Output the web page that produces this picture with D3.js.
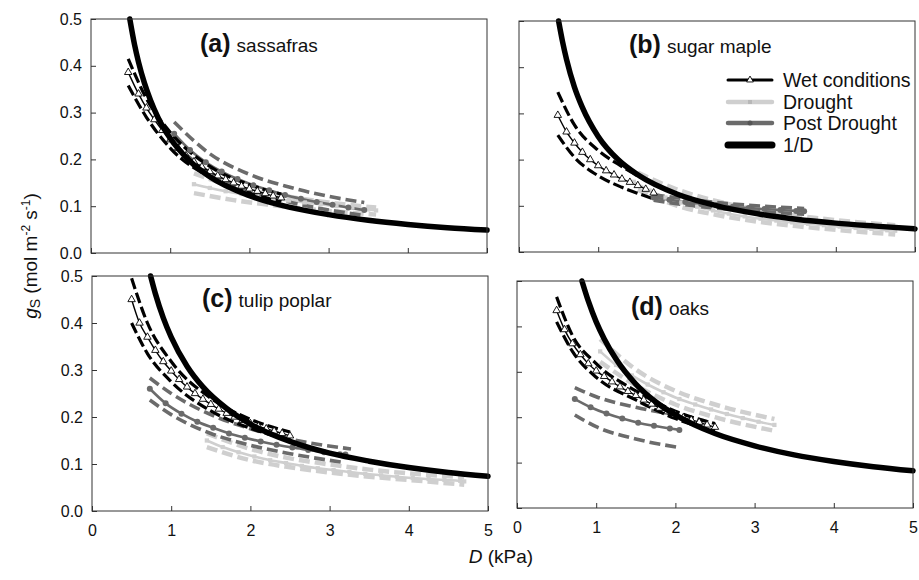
<!DOCTYPE html>
<html>
<head>
<meta charset="utf-8">
<script src="https://cdnjs.cloudflare.com/ajax/libs/d3/7.8.5/d3.min.js"></script>
<style>
  body { margin: 0; background: #fff; }
  svg text { font-family: "Liberation Sans", Arial, sans-serif; fill: #111; }
</style>
</head>
<body>
<svg id="chart" width="919" height="580"></svg>
<script>
// tick values and labels
var dTicks = [0, 1, 2, 3, 4, 5];
var gsTicks = [0, 0.1, 0.2, 0.3, 0.4, 0.5];
var panelTags = ["(a)", "(b)", "(c)", "(d)"];
var panelNames = ["sassafras", "sugar maple", "tulip poplar", "oaks"];
var legendNames = ["Wet conditions", "Drought", "Post Drought", "1/D"];

// all series are [D (kPa), gs (mol m-2 s-1)]
// (a) sassafras
var sasWet = [[0.47,0.386],[0.6,0.34],[0.7,0.31],[0.8,0.285],[0.9,0.262],[1.0,0.242],[1.1,0.224],[1.2,0.208],[1.3,0.195],[1.4,0.184],[1.5,0.174],[1.6,0.165],[1.7,0.157],[1.8,0.15],[1.9,0.143],[2.0,0.137],[2.1,0.132],[2.2,0.127],[2.3,0.122],[2.4,0.118]];
var sasWetHi = [[0.47,0.415],[0.7,0.33],[1.0,0.258],[1.5,0.185],[2.0,0.146],[2.4,0.126]];
var sasWetLo = [[0.47,0.358],[0.7,0.29],[1.0,0.224],[1.5,0.162],[2.0,0.128],[2.4,0.11]];
var sasDrought = [[1.3,0.147],[1.5,0.139],[1.7,0.132],[1.9,0.126],[2.1,0.121],[2.3,0.116],[2.5,0.112],[2.7,0.108],[2.9,0.104],[3.1,0.1],[3.3,0.097],[3.5,0.093],[3.6,0.091]];
var sasDroughtHi = [[1.3,0.17],[1.8,0.142],[2.5,0.12],[3.0,0.108],[3.6,0.097]];
var sasDroughtLo = [[1.3,0.128],[1.8,0.113],[2.2,0.104],[3.0,0.09],[3.6,0.082]];
var sasPost = [[1.05,0.255],[1.25,0.22],[1.45,0.194],[1.65,0.174],[1.85,0.158],[2.05,0.145],[2.25,0.134],[2.45,0.124],[2.65,0.116],[2.85,0.109],[3.05,0.103],[3.25,0.097],[3.45,0.092]];
var sasPostHi = [[1.05,0.28],[1.5,0.212],[2.0,0.168],[2.5,0.141],[3.0,0.121],[3.45,0.108]];
var sasPostLo = [[1.05,0.232],[1.5,0.172],[2.0,0.133],[2.5,0.109],[3.0,0.092],[3.45,0.08]];
var sasRef = [[0.49,0.5],[0.55,0.445],[0.6,0.408],[0.675,0.363],[0.75,0.327],[0.85,0.288],[1,0.245],[1.25,0.196],[1.5,0.163],[2,0.1225],[2.5,0.098],[3,0.082],[3.5,0.07],[4,0.061],[4.5,0.054],[5,0.049]];

// (b) sugar maple
var mapWet = [[0.49,0.296],[0.6,0.26],[0.7,0.236],[0.8,0.216],[0.9,0.2],[1.0,0.187],[1.1,0.176],[1.2,0.167],[1.3,0.158],[1.4,0.151],[1.5,0.144],[1.6,0.136],[1.7,0.128]];
var mapWetHi = [[0.49,0.346],[0.7,0.275],[1.0,0.22],[1.3,0.185],[1.5,0.165],[1.7,0.148]];
var mapWetLo = [[0.49,0.253],[0.7,0.205],[1.0,0.165],[1.3,0.14],[1.5,0.127],[1.7,0.115]];
var mapDrought = [[1.45,0.152],[1.65,0.133],[1.85,0.118],[2.05,0.107],[2.25,0.098],[2.45,0.09],[2.65,0.083],[2.85,0.077],[3.05,0.072],[3.25,0.068],[3.45,0.064],[3.65,0.061],[3.85,0.058],[4.05,0.055],[4.25,0.052],[4.45,0.05],[4.65,0.047],[4.75,0.046]];
var mapDroughtHi = [[1.5,0.172],[2.0,0.135],[2.5,0.11],[3.0,0.092],[3.5,0.079],[4.0,0.069],[4.75,0.058]];
var mapDroughtLo = [[1.5,0.135],[2.0,0.1],[2.5,0.08],[3.0,0.066],[3.5,0.056],[4.0,0.048],[4.75,0.038]];
var mapPost = [[1.7,0.118],[1.9,0.113],[2.1,0.108],[2.3,0.104],[2.5,0.101],[2.7,0.098],[2.9,0.095],[3.1,0.093],[3.3,0.091],[3.5,0.089],[3.6,0.088]];
var mapPostHi = [[1.7,0.124],[2.2,0.113],[2.7,0.104],[3.2,0.098],[3.6,0.094]];
var mapPostLo = [[1.7,0.112],[2.2,0.1],[2.7,0.092],[3.2,0.086],[3.6,0.082]];
var mapRef = [[0.5,0.5],[0.55,0.455],[0.6,0.417],[0.7,0.357],[0.8,0.313],[1,0.25],[1.25,0.2],[1.5,0.167],[2,0.125],[2.5,0.1],[3,0.083],[3.5,0.071],[4,0.0625],[4.5,0.056],[5,0.05]];

// (c) tulip poplar
var tulWet = [[0.5,0.45],[0.6,0.4],[0.7,0.37],[0.8,0.342],[0.9,0.318],[1.0,0.298],[1.1,0.28],[1.2,0.264],[1.3,0.25],[1.4,0.238],[1.5,0.227],[1.6,0.217],[1.7,0.208],[1.8,0.2],[1.9,0.193],[2.0,0.186],[2.1,0.18],[2.2,0.175],[2.3,0.17],[2.4,0.165],[2.5,0.16]];
var tulWetHi = [[0.5,0.495],[0.7,0.4],[1.0,0.318],[1.5,0.24],[2.0,0.195],[2.5,0.168]];
var tulWetLo = [[0.5,0.4],[0.7,0.335],[1.0,0.275],[1.5,0.213],[2.0,0.176],[2.5,0.152]];
var tulDrought = [[1.45,0.15],[1.65,0.136],[1.85,0.125],[2.05,0.116],[2.25,0.108],[2.45,0.102],[2.65,0.096],[2.85,0.091],[3.05,0.087],[3.25,0.083],[3.45,0.079],[3.65,0.076],[3.85,0.073],[4.05,0.07],[4.25,0.068],[4.45,0.066],[4.65,0.064],[4.7,0.063]];
var tulDroughtHi = [[1.45,0.165],[2.0,0.132],[2.5,0.112],[3.0,0.099],[3.5,0.088],[4.0,0.08],[4.7,0.072]];
var tulDroughtLo = [[1.45,0.136],[2.0,0.108],[2.5,0.093],[3.0,0.082],[3.5,0.073],[4.0,0.066],[4.7,0.056]];
var tulPost = [[0.73,0.26],[0.93,0.229],[1.13,0.207],[1.33,0.19],[1.53,0.177],[1.73,0.165],[1.93,0.156],[2.13,0.148],[2.33,0.141],[2.53,0.135],[2.73,0.13],[2.93,0.125],[3.13,0.121],[3.2,0.12]];
var tulPostHi = [[0.73,0.283],[1.0,0.25],[1.5,0.205],[2.0,0.175],[2.5,0.153],[3.27,0.132]];
var tulPostLo = [[0.73,0.236],[1.0,0.205],[1.5,0.165],[2.0,0.14],[2.5,0.122],[3.15,0.104]];
var tulRef = [[0.74,0.5],[0.8,0.4625],[0.9,0.411],[1,0.37],[1.2,0.308],[1.4,0.264],[1.7,0.218],[2,0.185],[2.5,0.148],[3,0.123],[3.5,0.106],[4,0.0925],[4.5,0.082],[5,0.074]];

// (d) oaks
var oakWet = [[0.5,0.435],[0.6,0.393],[0.7,0.362],[0.8,0.338],[0.9,0.318],[1.0,0.302],[1.1,0.29],[1.2,0.278],[1.3,0.267],[1.4,0.257],[1.5,0.248],[1.6,0.238],[1.7,0.229],[1.8,0.22],[1.9,0.212],[2.0,0.205],[2.1,0.199],[2.2,0.194],[2.3,0.189],[2.4,0.183],[2.5,0.178]];
var oakWetHi = [[0.5,0.465],[0.7,0.38],[1.0,0.318],[1.5,0.258],[2.0,0.213],[2.5,0.186]];
var oakWetLo = [[0.5,0.41],[0.7,0.345],[1.0,0.288],[1.5,0.238],[2.0,0.197],[2.5,0.17]];
var oakDrought = [[1.05,0.345],[1.25,0.315],[1.45,0.292],[1.65,0.272],[1.85,0.255],[2.05,0.24],[2.25,0.228],[2.45,0.217],[2.65,0.207],[2.85,0.198],[3.05,0.19],[3.25,0.183]];
var oakDroughtHi = [[1.05,0.372],[1.5,0.305],[2.0,0.258],[2.5,0.228],[3.25,0.196]];
var oakDroughtLo = [[1.05,0.322],[1.5,0.27],[2.0,0.228],[2.5,0.2],[3.25,0.17]];
var oakPost = [[0.73,0.24],[0.93,0.222],[1.13,0.208],[1.33,0.197],[1.53,0.188],[1.73,0.181],[1.93,0.175],[2.05,0.172]];
var oakPostHi = [[0.73,0.265],[1.0,0.245],[1.5,0.222],[2.02,0.205]];
var oakPostLo = [[0.73,0.205],[1.0,0.179],[1.5,0.152],[2.02,0.134]];
var oakRef = [[0.82,0.5],[0.9,0.456],[1,0.41],[1.1,0.373],[1.25,0.328],[1.5,0.273],[1.75,0.234],[2,0.205],[2.5,0.164],[3,0.137],[3.5,0.117],[4,0.1025],[4.5,0.091],[5,0.082]];

// colours
var cWet = "#000", cDrought = "#cfcfcf", cPost = "#6b6b6b";

var panels = [
    {box: {l: 91, r: 487, t: 19, b: 253}, xLab: false, yLab: true, tx: 200, ty: 52,
     wet: [sasWetHi, sasWet, sasWetLo], drought: [sasDroughtHi, sasDrought, sasDroughtLo], post: [sasPostHi, sasPost, sasPostLo], ref: sasRef},
    {box: {l: 519, r: 915, t: 21, b: 252}, xLab: false, yLab: false, tx: 629, ty: 53,
     wet: [mapWetHi, mapWet, mapWetLo], drought: [mapDroughtHi, mapDrought, mapDroughtLo], post: [mapPostHi, mapPost, mapPostLo], ref: mapRef},
    {box: {l: 92, r: 488, t: 276, b: 511}, xLab: true, yLab: true, tx: 202, ty: 307,
     wet: [tulWetHi, tulWet, tulWetLo], drought: [tulDroughtHi, tulDrought, tulDroughtLo], post: [tulPostHi, tulPost, tulPostLo], ref: tulRef},
    {box: {l: 517, r: 913, t: 281, b: 508}, xLab: true, yLab: false, tx: 631, ty: 315,
     wet: [oakWetHi, oakWet, oakWetLo], drought: [oakDroughtHi, oakDrought, oakDroughtLo], post: [oakPostHi, oakPost, oakPostLo], ref: oakRef}
];

var svg = d3.select("#chart");

function drawPanel(p, i) {
    var g = svg.append("g");
    var x = d3.scaleLinear().domain([0, 5]).range([p.box.l, p.box.r]);
    var y = d3.scaleLinear().domain([0, 0.5]).range([p.box.b, p.box.t]);
    var line = d3.line()
        .x(function(d) { return x(d[0]); })
        .y(function(d) { return y(d[1]); })
        .curve(d3.curveMonotoneX);

    // axes, ticks pointing inward
    var xAxis = d3.axisBottom(x).tickValues(dTicks).tickSize(-5).tickPadding(14)
        .tickFormat(p.xLab ? d3.format("d") : "");
    var yAxis = d3.axisLeft(y).tickValues(gsTicks).tickSize(-5).tickPadding(9)
        .tickFormat(p.yLab ? d3.format(".1f") : "");
    var gx = g.append("g").attr("transform", "translate(0," + p.box.b + ")").call(xAxis);
    var gy = g.append("g").attr("transform", "translate(" + p.box.l + ",0)").call(yAxis);
    [gx, gy].forEach(function(a) {
        a.select(".domain").remove();
        a.selectAll("line").attr("stroke", "#333");
        a.selectAll("text").attr("font-size", 16).attr("fill", "#111")
            .style("font-family", "'Liberation Sans', Arial, sans-serif");
    });

    // hi / lo dashed, mean solid
    function band(set, colour, w, dash, midW) {
        [set[0], set[2]].forEach(function(s) {
            g.append("path").datum(s).attr("d", line)
                .attr("fill", "none").attr("stroke", colour)
                .attr("stroke-width", w).attr("stroke-dasharray", dash);
        });
        g.append("path").datum(set[1]).attr("d", line)
            .attr("fill", "none").attr("stroke", colour).attr("stroke-width", midW);
    }
    band(p.drought, cDrought, 4.5, "11,5", 2.6);
    band(p.post, cPost, 3.6, "11,5", 2.6);
    band(p.wet, cWet, 3.2, "11,4", 1.4);

    g.selectAll(".dsq").data(p.drought[1]).enter().append("path")
        .attr("transform", function(d) { return "translate(" + x(d[0]) + "," + y(d[1]) + ")"; })
        .attr("d", d3.symbol(d3.symbolSquare, 18)).attr("fill", cDrought);
    g.selectAll(".pdot").data(p.post[1]).enter().append("circle")
        .attr("cx", function(d) { return x(d[0]); })
        .attr("cy", function(d) { return y(d[1]); })
        .attr("r", 3).attr("fill", cPost);
    g.selectAll(".wtri").data(p.wet[1]).enter().append("path")
        .attr("transform", function(d) { return "translate(" + x(d[0]) + "," + y(d[1]) + ")"; })
        .attr("d", d3.symbol(d3.symbolTriangle, 24))
        .attr("fill", "#fff").attr("stroke", "#000").attr("stroke-width", 0.9);

    // 1/D line
    g.append("path").datum(p.ref).attr("d", line)
        .attr("fill", "none").attr("stroke", "#000").attr("stroke-width", 5.5)
        .attr("stroke-linecap", "round");

    // frame
    g.append("rect").attr("x", p.box.l).attr("y", p.box.t)
        .attr("width", p.box.r - p.box.l).attr("height", p.box.b - p.box.t)
        .attr("fill", "none").attr("stroke", "#333").attr("stroke-width", 1);

    // panel label
    var t = g.append("text").attr("x", p.tx).attr("y", p.ty);
    t.append("tspan").attr("font-weight", "bold").attr("font-size", 25).text(panelTags[i]);
    t.append("tspan").attr("dx", 6).attr("font-size", 19).text(panelNames[i]);
}

panels.forEach(drawPanel);

// legend inside panel (b)
var legRows = [80, 102, 123, 145];
var leg = svg.append("g");
var legStyle = [
    {c: cWet, w: 3}, {c: cDrought, w: 4.5}, {c: cPost, w: 4.5}, {c: "#000", w: 7}
];
legendNames.forEach(function(name, i) {
    var yy = legRows[i];
    leg.append("line").attr("x1", 728).attr("x2", 772).attr("y1", yy).attr("y2", yy)
        .attr("stroke", legStyle[i].c).attr("stroke-width", legStyle[i].w)
        .attr("stroke-linecap", "round");
    if (i === 0) {
        leg.append("path").attr("transform", "translate(750," + yy + ")")
            .attr("d", d3.symbol(d3.symbolTriangle, 20))
            .attr("fill", "#fff").attr("stroke", "#000").attr("stroke-width", 0.9);
    } else if (i === 1) {
        leg.append("path").attr("transform", "translate(750," + yy + ")")
            .attr("d", d3.symbol(d3.symbolSquare, 16)).attr("fill", "#b8b8b8");
    } else if (i === 2) {
        leg.append("circle").attr("cx", 750).attr("cy", yy).attr("r", 2.5).attr("fill", "#555");
    }
    leg.append("text").attr("x", 783).attr("y", yy + 7).attr("font-size", 19.5).text(name);
});

// axis titles
var yt = svg.append("text").attr("transform", "translate(37,256) rotate(-90)")
    .attr("text-anchor", "middle").attr("font-size", 19);
yt.append("tspan").attr("font-style", "italic").text("g");
yt.append("tspan").attr("font-size", 14).attr("dy", 3).text("S");
yt.append("tspan").attr("dy", -3).text(" (mol m");
yt.append("tspan").attr("font-size", 12).attr("dy", -7).text("-2");
yt.append("tspan").attr("dy", 7).text(" s");
yt.append("tspan").attr("font-size", 12).attr("dy", -7).text("-1");
yt.append("tspan").attr("dy", 7).text(")");

var xt = svg.append("text").attr("x", 501).attr("y", 563)
    .attr("text-anchor", "middle").attr("font-size", 19);
xt.append("tspan").attr("font-style", "italic").text("D");
xt.append("tspan").text(" (kPa)");
</script>
</body>
</html>
